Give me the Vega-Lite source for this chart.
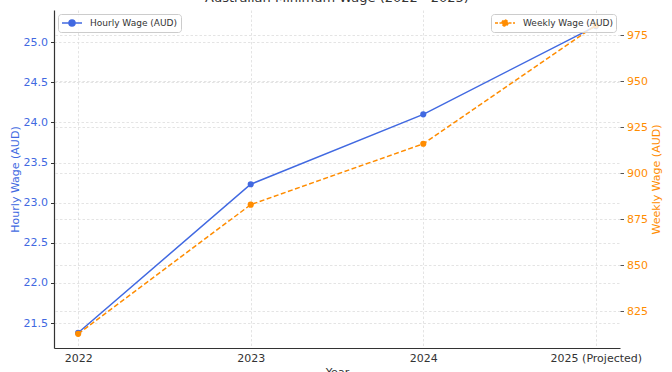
{
  "$schema": "https://vega.github.io/schema/vega-lite/v6.json",
  "autosize": {"type": "none"},
  "padding": {"left": 54, "top": 10, "right": 52, "bottom": 24},
  "width": 566,
  "height": 338,
  "title": {"text": "Australian Minimum Wage (2022 - 2025)", "fontSize": 13, "fontWeight": "normal", "color": "#333333", "font": "DejaVu Sans", "baseline": "alphabetic", "offset": 3, "dy": 8},
  "config": {
    "font": "DejaVu Sans",
    "view": {"stroke": null},
    "axis": {"labelFont": "DejaVu Sans", "titleFont": "DejaVu Sans", "labelFontSize": 11, "titleFontSize": 11, "titleFontWeight": "normal", "labelColor": "#333333", "titleColor": "#333333", "gridColor": "#dddddd", "gridDash": [2.5, 2], "gridWidth": 0.8},
    "legend": {"labelFont": "DejaVu Sans", "labelFontSize": 9, "labelColor": "#333333", "fillColor": "rgba(255,255,255,0.8)", "strokeColor": "#cccccc", "cornerRadius": 3, "padding": 3, "offset": 4, "title": null}
  },
  "data": {"values": [
    {"Year": "2022", "Hourly": 21.38, "Weekly": 812.6, "h": "Hourly Wage (AUD)", "w": "Weekly Wage (AUD)"},
    {"Year": "2023", "Hourly": 23.23, "Weekly": 882.8, "h": "Hourly Wage (AUD)", "w": "Weekly Wage (AUD)"},
    {"Year": "2024", "Hourly": 24.10, "Weekly": 915.9, "h": "Hourly Wage (AUD)", "w": "Weekly Wage (AUD)"},
    {"Year": "2025 (Projected)", "Hourly": 25.2, "Weekly": 980.3, "h": "Hourly Wage (AUD)", "w": "Weekly Wage (AUD)"}
  ]},
  "encoding": {
    "x": {"field": "Year", "type": "ordinal", "sort": null, "scale": {"type": "point", "padding": 0.14},
      "axis": {"title": "Year", "labelAngle": 0, "ticks": false, "labelPadding": 4, "titlePadding": 3, "grid": true, "domainColor": "#333333", "domainWidth": 1.2}}
  },
  "layer": [
    {
      "mark": {"type": "line", "strokeWidth": 1.5, "point": {"size": 38, "filled": true}},
      "encoding": {
        "y": {"field": "Hourly", "type": "quantitative", "scale": {"domain": [21.19, 25.4], "zero": false, "nice": false},
          "axis": {"title": "Hourly Wage (AUD)", "values": [21.5, 22, 22.5, 23, 23.5, 24, 24.5, 25], "format": ".1f", "labelColor": "#4169E1", "titleColor": "#4169E1", "tickColor": "#333333", "tickSize": 3.5, "labelPadding": 3, "titlePadding": 3, "domainColor": "#333333", "domainWidth": 1.2, "grid": true}},
        "color": {"field": "h", "type": "nominal", "scale": {"range": ["#4169E1"]},
          "legend": {"orient": "top-left", "symbolType": "M-2,0H2M-0.6,0A0.6,0.6,0,1,1,0.6,0A0.6,0.6,0,1,1,-0.6,0Z", "symbolSize": 100, "symbolStrokeWidth": 1.5, "symbolFillColor": "#4169E1", "symbolStrokeColor": "#4169E1", "symbolOffset": 5, "labelOffset": 12}}
      }
    },
    {
      "mark": {"type": "line", "strokeWidth": 1.5, "strokeDash": [5, 2.5], "point": {"size": 38, "filled": true}},
      "encoding": {
        "y": {"field": "Weekly", "type": "quantitative", "scale": {"domain": [804.9, 988.6], "zero": false, "nice": false},
          "axis": {"title": "Weekly Wage (AUD)", "orient": "right", "values": [825, 850, 875, 900, 925, 950, 975], "labelColor": "#FF8C00", "titleColor": "#FF8C00", "tickColor": "#555555", "tickSize": 3.5, "labelPadding": 3, "titlePadding": 14, "titleAngle": 270, "domain": false, "grid": true}},
        "color": {"field": "w", "type": "nominal", "scale": {"range": ["#FF8C00"]},
          "legend": {"orient": "top-right", "symbolType": "M-2,0H2M-0.6,0A0.6,0.6,0,1,1,0.6,0A0.6,0.6,0,1,1,-0.6,0Z", "symbolSize": 100, "symbolStrokeWidth": 1.5, "symbolDash": [3, 1.5], "symbolFillColor": "#FF8C00", "symbolStrokeColor": "#FF8C00", "symbolOffset": 5, "labelOffset": 12}}
      }
    }
  ],
  "resolve": {"scale": {"y": "independent", "color": "independent"}, "legend": {"color": "independent"}}
}
